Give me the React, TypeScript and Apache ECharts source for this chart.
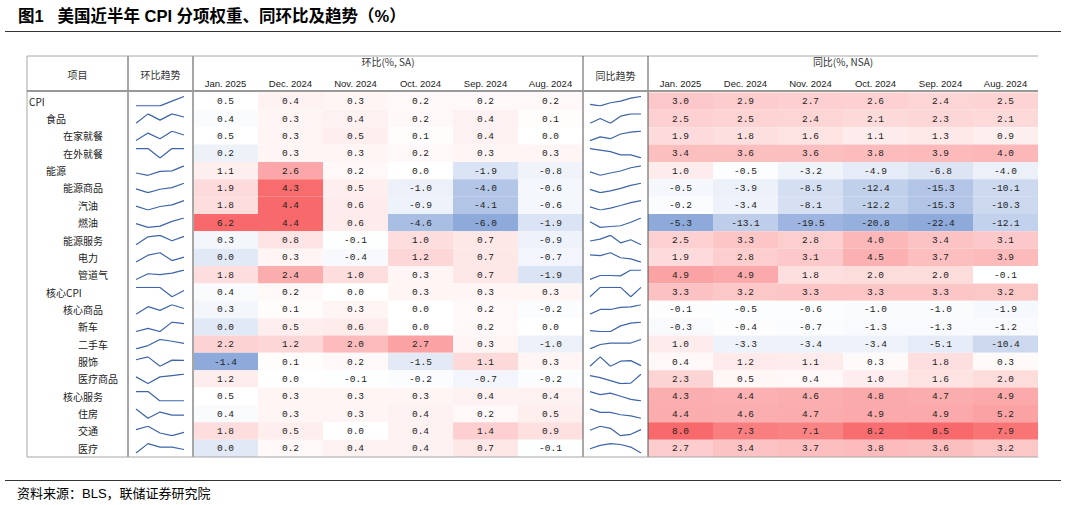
import React, { useEffect, useRef } from "react";
import * as echarts from "echarts";

// ---------- data ----------
const items = ["CPI", "食品", "在家就餐", "在外就餐", "能源", "能源商品", "汽油", "燃油", "能源服务", "电力", "管道气", "核心CPI", "核心商品", "新车", "二手车", "服饰", "医疗商品", "核心服务", "住房", "交通", "医疗"];
const levels = [0, 1, 2, 2, 1, 2, 3, 3, 2, 3, 3, 1, 2, 3, 3, 3, 3, 2, 3, 3, 3];
const months = ["Jan. 2025", "Dec. 2024", "Nov. 2024", "Oct. 2024", "Sep. 2024", "Aug. 2024"];

// 环比 (%, SA), columns Jan.2025 ... Aug.2024
const momCPI = [0.5, 0.4, 0.3, 0.2, 0.2, 0.2];
const momFood = [0.4, 0.3, 0.4, 0.2, 0.4, 0.1];
const momFoodHome = [0.5, 0.3, 0.5, 0.1, 0.4, 0.0];
const momFoodAway = [0.2, 0.3, 0.3, 0.2, 0.3, 0.3];
const momEnergy = [1.1, 2.6, 0.2, 0.0, -1.9, -0.8];
const momEnergyGoods = [1.9, 4.3, 0.5, -1.0, -4.0, -0.6];
const momGasoline = [1.8, 4.4, 0.6, -0.9, -4.1, -0.6];
const momFuelOil = [6.2, 4.4, 0.6, -4.6, -6.0, -1.9];
const momEnergyServ = [0.3, 0.8, -0.1, 1.0, 0.7, -0.9];
const momElectricity = [0.0, 0.3, -0.4, 1.2, 0.7, -0.7];
const momGas = [1.8, 2.4, 1.0, 0.3, 0.7, -1.9];
const momCore = [0.4, 0.2, 0.0, 0.3, 0.3, 0.3];
const momCoreGoods = [0.3, 0.1, 0.3, 0.0, 0.2, -0.2];
const momNewCars = [0.0, 0.5, 0.6, 0.0, 0.2, 0.0];
const momUsedCars = [2.2, 1.2, 2.0, 2.7, 0.3, -1.0];
const momApparel = [-1.4, 0.1, 0.2, -1.5, 1.1, 0.3];
const momMedGoods = [1.2, 0.0, -0.1, -0.2, -0.7, -0.2];
const momCoreServ = [0.5, 0.3, 0.3, 0.3, 0.4, 0.4];
const momShelter = [0.4, 0.3, 0.3, 0.4, 0.2, 0.5];
const momTransport = [1.8, 0.5, 0.0, 0.4, 1.4, 0.9];
const momMedical = [0.0, 0.2, 0.4, 0.4, 0.7, -0.1];

// 同比 (%, NSA)
const yoyCPI = [3.0, 2.9, 2.7, 2.6, 2.4, 2.5];
const yoyFood = [2.5, 2.5, 2.4, 2.1, 2.3, 2.1];
const yoyFoodHome = [1.9, 1.8, 1.6, 1.1, 1.3, 0.9];
const yoyFoodAway = [3.4, 3.6, 3.6, 3.8, 3.9, 4.0];
const yoyEnergy = [1.0, -0.5, -3.2, -4.9, -6.8, -4.0];
const yoyEnergyGoods = [-0.5, -3.9, -8.5, -12.4, -15.3, -10.1];
const yoyGasoline = [-0.2, -3.4, -8.1, -12.2, -15.3, -10.3];
const yoyFuelOil = [-5.3, -13.1, -19.5, -20.8, -22.4, -12.1];
const yoyEnergyServ = [2.5, 3.3, 2.8, 4.0, 3.4, 3.1];
const yoyElectricity = [1.9, 2.8, 3.1, 4.5, 3.7, 3.9];
const yoyGas = [4.9, 4.9, 1.8, 2.0, 2.0, -0.1];
const yoyCore = [3.3, 3.2, 3.3, 3.3, 3.3, 3.2];
const yoyCoreGoods = [-0.1, -0.5, -0.6, -1.0, -1.0, -1.9];
const yoyNewCars = [-0.3, -0.4, -0.7, -1.3, -1.3, -1.2];
const yoyUsedCars = [1.0, -3.3, -3.4, -3.4, -5.1, -10.4];
const yoyApparel = [0.4, 1.2, 1.1, 0.3, 1.8, 0.3];
const yoyMedGoods = [2.3, 0.5, 0.4, 1.0, 1.6, 2.0];
const yoyCoreServ = [4.3, 4.4, 4.6, 4.8, 4.7, 4.9];
const yoyShelter = [4.4, 4.6, 4.7, 4.9, 4.9, 5.2];
const yoyTransport = [8.0, 7.3, 7.1, 8.2, 8.5, 7.9];
const yoyMedical = [2.7, 3.4, 3.7, 3.8, 3.6, 3.2];

const momRows = [momCPI, momFood, momFoodHome, momFoodAway, momEnergy, momEnergyGoods, momGasoline, momFuelOil, momEnergyServ, momElectricity, momGas, momCore, momCoreGoods, momNewCars, momUsedCars, momApparel, momMedGoods, momCoreServ, momShelter, momTransport, momMedical];
const yoyRows = [yoyCPI, yoyFood, yoyFoodHome, yoyFoodAway, yoyEnergy, yoyEnergyGoods, yoyGasoline, yoyFuelOil, yoyEnergyServ, yoyElectricity, yoyGas, yoyCore, yoyCoreGoods, yoyNewCars, yoyUsedCars, yoyApparel, yoyMedGoods, yoyCoreServ, yoyShelter, yoyTransport, yoyMedical];

// colour-scale groups (latest month scaled on its own, earlier months together)
const momScales = [{ cols: [0], mid: 0.5 }, { cols: [1, 2, 3, 4, 5], mid: 0 }];
const yoyScales = [{ cols: [0], mid: 0 }, { cols: [1, 2, 3, 4, 5], mid: 0 }];

// ---------- styling / layout ----------
const RED = [248, 105, 107];
const WHITE = [255, 255, 255];
const BLUE = [142, 170, 219];
const CJK = "'Noto Sans CJK SC', sans-serif";
const LATIN_CJK = "'Liberation Sans', 'Noto Sans CJK SC', sans-serif";
const MONO = "'Liberation Mono', 'DejaVu Sans Mono', monospace";

const X_LEFT = 27, X_C1 = 128, X_C2 = 193, X_C3 = 583, X_C4 = 648, X_RIGHT = 1038;
const Y_TOP = 56, Y_HEAD = 91, BODY_TOP = 92.5, BODY_BOTTOM = 457;
const BODY_H = BODY_BOTTOM - BODY_TOP;
const ROW_H = BODY_H / items.length;

function mix(a: number[], b: number[], t: number) {
  const c = a.map((v, i) => Math.round(v + (b[i] - v) * t));
  return `rgb(${c[0]},${c[1]},${c[2]})`;
}
function cellColor(v: number, lo: number, mid: number, hi: number) {
  if (v >= mid) return mix(WHITE, RED, hi > mid ? Math.min(1, (v - mid) / (hi - mid)) : 0);
  return mix(WHITE, BLUE, lo < mid ? Math.min(1, (mid - v) / (mid - lo)) : 0);
}

function cellData(rows: number[][], scales: { cols: number[]; mid: number }[]) {
  const out: any[] = [];
  scales.forEach((sc) => {
    const vals: number[] = [];
    sc.cols.forEach((j) => rows.forEach((r) => vals.push(r[j])));
    const lo = Math.min(...vals), hi = Math.max(...vals);
    sc.cols.forEach((j) => {
      rows.forEach((r, i) => {
        out.push({ value: [j, i, r[j]], itemStyle: { color: cellColor(r[j], lo, sc.mid, hi) } });
      });
    });
  });
  return out;
}

const renderCell = (params: any, api: any) => {
  const j = api.value(0), i = api.value(1), v = api.value(2);
  const p = api.coord([j, i]);
  const s = api.size([1, 1]);
  return {
    type: "group",
    children: [
      {
        type: "rect",
        shape: { x: p[0] - s[0] / 2, y: p[1] - s[1] / 2, width: s[0], height: s[1] },
        style: { fill: api.visual("color") },
      },
      {
        type: "text",
        style: {
          text: Number(v).toFixed(1), x: p[0], y: p[1] + 0.5, align: "center", verticalAlign: "middle",
          fontSize: 9.5, fontFamily: MONO, fill: "#222",
        },
      },
    ],
  };
};

export default function App() {
  const ref = useRef<HTMLDivElement>(null);
  useEffect(() => {
    document.body.style.margin = "0";
    const chart = echarts.init(ref.current!, null, { renderer: "svg" });

    const grid: any[] = [
      { left: X_C2, top: BODY_TOP, width: X_C3 - X_C2, height: BODY_H },
      { left: X_C4, top: BODY_TOP, width: X_RIGHT - X_C4, height: BODY_H },
    ];
    const xAxis: any[] = [];
    const yAxis: any[] = [];
    const series: any[] = [];

    const monthAxis = (gi: number, name: string) => ({
      type: "category", gridIndex: gi, data: months, position: "top",
      axisLine: { show: false }, axisTick: { show: false }, splitLine: { show: false },
      axisLabel: { fontSize: 9.5, color: "#222", margin: 4, fontFamily: "'Liberation Sans', Arial, sans-serif" },
      name, nameLocation: "middle", nameGap: 26,
      nameTextStyle: { fontSize: 10, color: "#333", fontFamily: CJK },
    });
    xAxis.push(monthAxis(0, "环比(%, SA)"), monthAxis(1, "同比(%, NSA)"));

    const rich: any = {};
    [0, 17, 34, 49].forEach((p, k) => {
      rich["l" + k] = { padding: [0, 0, 0, p], fontSize: 10, color: "#222", fontFamily: CJK };
    });
    yAxis.push({
      type: "category", gridIndex: 0, data: items, inverse: true,
      axisLine: { show: false }, axisTick: { show: false }, splitLine: { show: false },
      axisLabel: {
        align: "left", margin: X_C2 - 29,
        formatter: (v: string, idx: number) => `{l${levels[idx]}|${v}}`, rich,
      },
    });
    yAxis.push({
      type: "category", gridIndex: 1, data: items, inverse: true,
      axisLine: { show: false }, axisTick: { show: false }, axisLabel: { show: false }, splitLine: { show: false },
    });

    series.push({ type: "custom", xAxisIndex: 0, yAxisIndex: 0, data: cellData(momRows, momScales), renderItem: renderCell, silent: true });
    series.push({ type: "custom", xAxisIndex: 1, yAxisIndex: 1, data: cellData(yoyRows, yoyScales), renderItem: renderCell, silent: true });

    // sparklines (chronological order)
    items.forEach((_, i) => {
      const top = BODY_TOP + i * ROW_H + 4;
      const h = ROW_H - 8;
      const specs = [
        { left: 136, width: 48, vals: momRows[i].slice(1).reverse() },
        { left: 590, width: 51, vals: yoyRows[i].slice().reverse() },
      ];
      specs.forEach((s) => {
        const gi = grid.length;
        grid.push({ left: s.left, top, width: s.width, height: h });
        xAxis.push({ type: "category", gridIndex: gi, show: false, boundaryGap: false, data: s.vals.map((_, k) => k) });
        yAxis.push({ type: "value", gridIndex: gi, show: false, scale: true, min: "dataMin", max: "dataMax" });
        series.push({
          type: "line", xAxisIndex: gi, yAxisIndex: gi, data: s.vals, symbol: "none",
          lineStyle: { color: "#3d65a8", width: 1.2 }, silent: true,
        });
      });
    });

    const ln = (x1: number, y1: number, x2: number, y2: number, stroke: string, w: number) => ({
      type: "line", shape: { x1, y1, x2, y2 }, style: { stroke, lineWidth: w }, z: 100,
    });
    const txt = (x: number, y: number, text: string, opt: any = {}) => ({
      type: "text", x, y, z: 100,
      style: { text, fill: "#333", fontSize: 10, fontFamily: CJK, align: "center", verticalAlign: "middle", ...opt },
    });

    const graphic: any[] = [
      txt(18, 16, "图1   美国近半年 CPI 分项权重、同环比及趋势（%）", { align: "left", fontSize: 16.5, fontWeight: "bold", fill: "#000", fontFamily: LATIN_CJK }),
      ln(5, 31.5, 1061, 31.5, "#333", 1.2),
      ln(5, 480.5, 1061, 480.5, "#333", 1.2),
      txt(17, 493, "资料来源：BLS，联储证券研究院", { align: "left", fontSize: 13, fill: "#000", fontFamily: LATIN_CJK }),
      ln(X_LEFT, Y_TOP, X_RIGHT, Y_TOP, "#a6a6a6", 1),
      ln(X_LEFT, Y_TOP, X_LEFT, BODY_BOTTOM, "#a6a6a6", 1),
      ln(X_C1, Y_TOP, X_C1, BODY_BOTTOM, "#a6a6a6", 2),
      ln(X_C2, Y_TOP, X_C2, BODY_BOTTOM, "#a6a6a6", 2),
      ln(X_C3, Y_TOP, X_C3, BODY_BOTTOM, "#555", 1),
      ln(X_C4, Y_TOP, X_C4, BODY_BOTTOM, "#555", 1),
      ln(X_LEFT, Y_HEAD, X_RIGHT, Y_HEAD, "#999", 2),
      ln(X_LEFT, BODY_BOTTOM, X_RIGHT, BODY_BOTTOM, "#a6a6a6", 1),
      txt((X_LEFT + X_C1) / 2, 74, "项目"),
      txt((X_C1 + X_C2) / 2, 74, "环比趋势"),
      txt((X_C3 + X_C4) / 2, 75, "同比趋势"),
    ];

    chart.setOption({
      animation: false,
      backgroundColor: "#fff",
      grid, xAxis, yAxis, series, graphic,
    });
    return () => chart.dispose();
  }, []);
  return <div ref={ref} style={{ position: "absolute", left: 0, top: 0, width: 1066, height: 505 }} />;
}
